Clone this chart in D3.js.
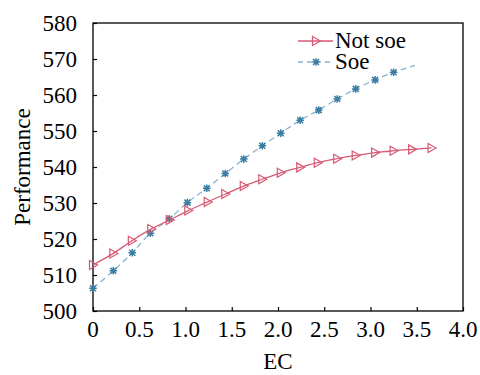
<!DOCTYPE html>
<html>
<head>
<meta charset="utf-8">
<script src="https://cdn.jsdelivr.net/npm/d3@7"></script>
<style>
  body { margin: 0; background: #fff; }
</style>
</head>
<body>
<div id="chart"></div>
<script>
// EC values and performance for each series
const ecNotSoe = [0, 0.22, 0.42, 0.63, 0.83, 1.03, 1.24, 1.43, 1.63, 1.83, 2.03, 2.24, 2.43, 2.64, 2.84, 3.05, 3.25, 3.45, 3.66];
const perfNotSoe = [512.8, 516.0, 519.5, 522.8, 525.3, 527.9, 530.3, 532.5, 534.7, 536.6, 538.4, 539.9, 541.2, 542.3, 543.2, 544.0, 544.5, 544.9, 545.3];
const ecSoe = [0, 0.22, 0.425, 0.62, 0.825, 1.02, 1.23, 1.43, 1.63, 1.83, 2.03, 2.24, 2.44, 2.64, 2.84, 3.05, 3.25, 3.48];
const perfSoe = [506.3, 511.2, 516.2, 521.6, 525.6, 530.1, 534.1, 538.2, 542.2, 545.9, 549.4, 553.0, 555.8, 558.9, 561.7, 564.2, 566.3, 568.2];
const xTicks = [0, 0.5, 1.0, 1.5, 2.0, 2.5, 3.0, 3.5, 4.0];
const yTicks = [500, 510, 520, 530, 540, 550, 560, 570, 580];
const seriesNames = ["Not soe", "Soe"];

const width = 480, height = 375;
const margin = { top: 23, right: 17, bottom: 64, left: 93 };
const innerW = width - margin.left - margin.right;
const innerH = height - margin.top - margin.bottom;

const font = "Liberation Serif";
const fontSize = 23;

const red = "#d65a74";
const blueLine = "#86b3cf";
const blueMark = "#3b7da3";

const svg = d3.select("#chart").append("svg")
  .attr("width", width)
  .attr("height", height)
  .attr("font-family", font);

// every text gets the serif face directly
const serif = sel => sel
  .attr("font-family", font)
  .style("font-family", `'${font}'`)
  .style("font-size", fontSize + "px")
  .attr("fill", "#000");

const x = d3.scaleLinear().domain([0, 4]).range([margin.left, width - margin.right]);
const y = d3.scaleLinear().domain([500, 580]).range([height - margin.bottom, margin.top]);

// tick marks point inward
svg.append("g")
  .attr("transform", `translate(0,${height - margin.bottom})`)
  .call(d3.axisBottom(x).tickValues(xTicks).tickSize(-4).tickFormat(() => ""))
  .call(a => a.select(".domain").remove())
  .call(a => a.selectAll("line").attr("stroke", "#000").attr("stroke-width", 1.2));

svg.append("g")
  .attr("transform", `translate(${margin.left},0)`)
  .call(d3.axisLeft(y).tickValues(yTicks).tickSize(-4).tickFormat(() => ""))
  .call(a => a.select(".domain").remove())
  .call(a => a.selectAll("line").attr("stroke", "#000").attr("stroke-width", 1.2));

// tick labels as top-level texts
svg.selectAll(".xlab").data(xTicks).join("text")
  .attr("class", "xlab")
  .attr("x", d => x(d)).attr("y", height - margin.bottom + 26)
  .attr("text-anchor", "middle")
  .call(serif)
  .text(d => d === 0 ? "0" : d3.format(".1f")(d));

svg.selectAll(".ylab").data(yTicks).join("text")
  .attr("class", "ylab")
  .attr("x", margin.left - 16).attr("y", d => y(d) + 8)
  .attr("text-anchor", "end")
  .call(serif)
  .text(d => d);

// frame
svg.append("rect")
  .attr("x", margin.left).attr("y", margin.top)
  .attr("width", innerW).attr("height", innerH)
  .attr("fill", "none").attr("stroke", "#000").attr("stroke-width", 1.3);

// axis titles
svg.append("text")
  .attr("x", margin.left + innerW / 2).attr("y", 369)
  .attr("text-anchor", "middle")
  .call(serif).text("EC");
svg.append("text")
  .attr("transform", `translate(30,${margin.top + innerH / 2}) rotate(-90)`)
  .attr("text-anchor", "middle")
  .call(serif).text("Performance");

const line = d3.line().x(d => x(d[0])).y(d => y(d[1])).curve(d3.curveMonotoneX);

const notSoe = ecNotSoe.map((e, i) => [e, perfNotSoe[i]]);
const soe = ecSoe.map((e, i) => [e, perfSoe[i]]);

const triPath = "M-3.5,-4.5 L4.5,0 L-3.5,4.5 Z";
const starPath = "M-3,-3 L3,3 M-3,3 L3,-3 M0,-3.8 L0,3.8 M-3.8,0 L3.8,0";

// Soe series: dashed line, star markers (last point is line end only)
svg.append("path").datum(soe)
  .attr("fill", "none").attr("stroke", blueLine)
  .attr("stroke-width", 1.3).attr("stroke-dasharray", "6,4")
  .attr("d", line);
svg.selectAll(".star").data(soe.slice(0, -1)).join("path")
  .attr("class", "star")
  .attr("transform", d => `translate(${x(d[0])},${y(d[1])})`)
  .attr("d", starPath)
  .attr("stroke", blueMark).attr("stroke-width", 1.5).attr("fill", "none");

// Not soe series: solid line, open right triangles
svg.append("path").datum(notSoe)
  .attr("fill", "none").attr("stroke", red).attr("stroke-width", 1.3)
  .attr("d", line);
svg.selectAll(".tri").data(notSoe).join("path")
  .attr("class", "tri")
  .attr("transform", d => `translate(${x(d[0])},${y(d[1])})`)
  .attr("d", triPath)
  .attr("stroke", red).attr("stroke-width", 1.2).attr("fill", "none");

// legend
const lx = 298, ly = 41, rowH = 21;
seriesNames.forEach((name, i) => {
  const yy = ly + i * rowH;
  svg.append("line").attr("x1", lx).attr("x2", lx + 35).attr("y1", yy).attr("y2", yy)
    .attr("stroke", i === 0 ? red : blueLine).attr("stroke-width", 1.3)
    .attr("stroke-dasharray", i === 0 ? null : "5,4");
  svg.append("path").attr("transform", `translate(${lx + 18},${yy})`)
    .attr("d", i === 0 ? triPath : starPath)
    .attr("stroke", i === 0 ? red : blueMark)
    .attr("stroke-width", i === 0 ? 1.2 : 1.5).attr("fill", "none");
  svg.append("text").attr("x", lx + 37).attr("y", yy + 7)
    .call(serif).text(name);
});
</script>
</body>
</html>
